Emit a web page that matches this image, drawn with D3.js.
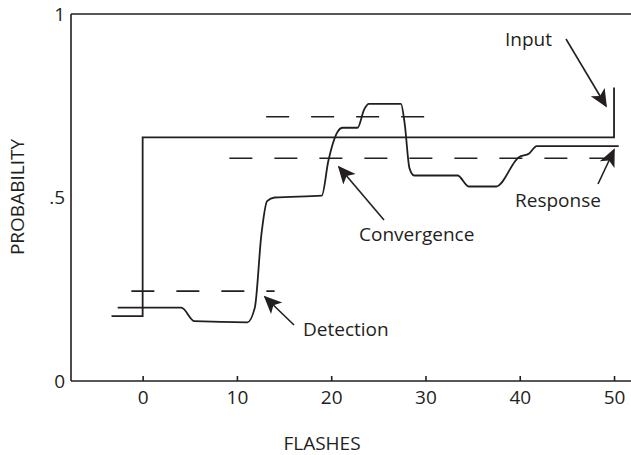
<!DOCTYPE html><html><head><script src="https://cdn.jsdelivr.net/npm/d3@7"></script>
<style>body{margin:0;background:#fff}text{font-family:"Open Sans",sans-serif;fill:#231f20}</style></head><body><svg id="c" width="631" height="455"></svg>
<script>
const xTicks=[0,10,20,30,40,50];
const yTicks=[0,0.5,1];
const yTickLabels=["0",".5","1"];
const inputX=[-3.3,0,0,50,50];
const inputY=[0.177,0.177,0.664,0.664,0.8];
const respX=[-2.65,4.1,5.5,11.1,11.9,12.6,13.2,14,19,19.7,20.7,21.2,22.8,23.5,24,27.4,27.8,28.3,28.8,33.4,34.6,37.5,39.9,41,41.8,50.5];
const respY=[0.2,0.2,0.163,0.16,0.2,0.4,0.49,0.5,0.505,0.6,0.68,0.69,0.69,0.74,0.755,0.755,0.7,0.58,0.56,0.56,0.53,0.53,0.61,0.62,0.64,0.64];
const dashes=[{x0:-1.2,x1:14,y:0.245},{x0:13.1,x1:30.4,y:0.72},{x0:9.2,x1:49.7,y:0.607}];
const labels=[{t:"Input",x:505,y:46,a:[566,39,606,106]},{t:"Response",x:515,y:207,a:[598,184,614,150]},{t:"Convergence",x:359,y:241,a:[384,220,339,167]},{t:"Detection",x:303,y:336,a:[294,325,265,297]}];
const svg=d3.select("#c");
const x=d3.scaleLinear().domain([-7.6,51.8]).range([71,631]);
const y=d3.scaleLinear().domain([0,1]).range([381,14]);
svg.append("defs").append("marker").attr("id","ah").attr("viewBox","0 0 10 10").attr("refX",9).attr("refY",5).attr("markerWidth",18).attr("markerHeight",18).attr("markerUnits","userSpaceOnUse").attr("orient","auto").append("path").attr("d","M0,0.5L10,5L0,9.5L2.5,5Z").attr("fill","#231f20");
const gx=svg.append("g").attr("transform","translate(0,381)").call(d3.axisBottom(x).tickValues(xTicks).tickSize(-5).tickPadding(10));
const gy=svg.append("g").attr("transform","translate(71,0)").call(d3.axisLeft(y).tickValues(yTicks).tickFormat((d,i)=>yTickLabels[i]).tickSize(0).tickPadding(6));
[gx,gy].forEach(g=>{g.selectAll("path,line").attr("stroke","#231f20").attr("stroke-width",1.6);g.selectAll("text").attr("font-size",19).attr("font-family","Open Sans");});
gx.select(".domain").attr("d","M71,0H631");
gy.select(".domain").attr("d","M0,381V14");
svg.append("line").attr("x1",71).attr("x2",631).attr("y1",14).attr("y2",14).attr("stroke","#231f20").attr("stroke-width",1.6);
const ln=d3.line().x(d=>x(d[0])).y(d=>y(d[1]));
svg.append("path").attr("d",ln(d3.zip(inputX,inputY))).attr("fill","none").attr("stroke","#231f20").attr("stroke-width",1.8);
svg.append("path").attr("d",d3.line().x(d=>x(d[0])).y(d=>y(d[1])).curve(d3.curveMonotoneX)(d3.zip(respX,respY))).attr("fill","none").attr("stroke","#231f20").attr("stroke-width",1.8);
dashes.forEach(d=>svg.append("line").attr("x1",x(d.x0)).attr("x2",x(d.x1)).attr("y1",y(d.y)).attr("y2",y(d.y)).attr("stroke","#231f20").attr("stroke-width",1.6).attr("stroke-dasharray","23,22"));
labels.forEach(l=>{svg.append("text").attr("x",l.x).attr("y",l.y).attr("font-size",19).text(l.t);
svg.append("line").attr("x1",l.a[0]).attr("y1",l.a[1]).attr("x2",l.a[2]).attr("y2",l.a[3]).attr("stroke","#231f20").attr("stroke-width",1.6).attr("marker-end","url(#ah)");});
svg.append("text").attr("x",322).attr("y",450).attr("text-anchor","middle").attr("font-size",19).text("FLASHES");
svg.append("text").attr("transform","translate(24,197) rotate(-90)").attr("text-anchor","middle").attr("font-size",19).text("PROBABILITY");
</script></body></html>
